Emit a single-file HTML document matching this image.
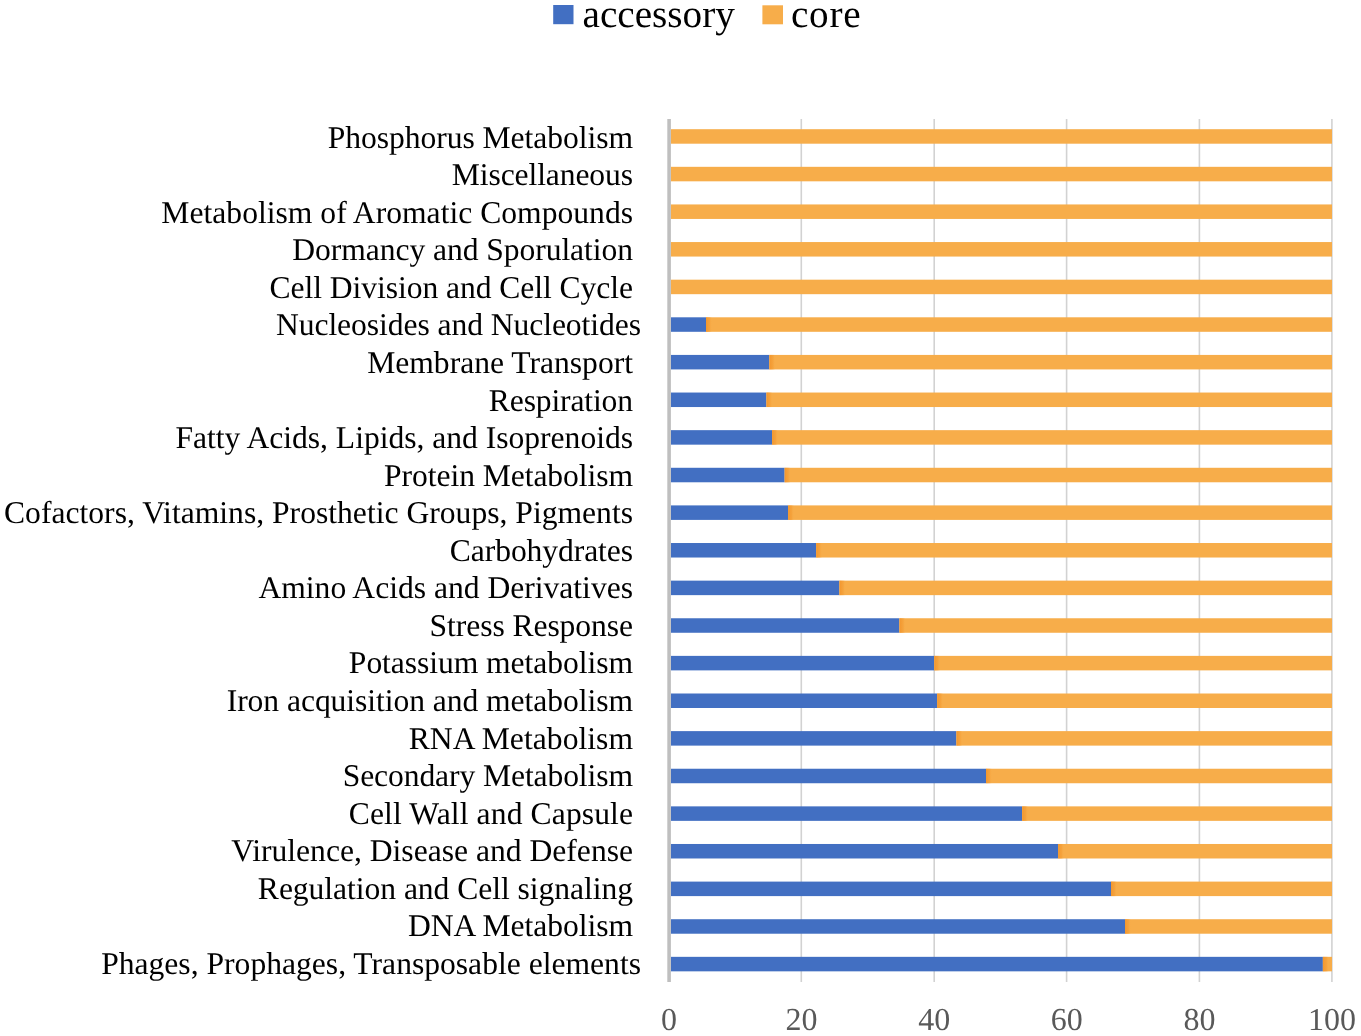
<!DOCTYPE html>
<html><head><meta charset="utf-8"><style>
html,body{margin:0;padding:0;background:#fff;width:1361px;height:1036px;overflow:hidden;font-family:"Liberation Serif",serif;}
svg{display:block;filter:blur(0.35px)} text{text-rendering:geometricPrecision}
</style></head><body>
<svg width="1361" height="1036" viewBox="0 0 1361 1036">
<defs><linearGradient id="jn" x1="0" x2="1" y1="0" y2="0"><stop offset="0" stop-color="#F2962E"/><stop offset="0.6" stop-color="#F39C34" stop-opacity="0.6"/><stop offset="1" stop-color="#F7AD4A" stop-opacity="0"/></linearGradient></defs>
<rect width="1361" height="1036" fill="#fff"/>
<rect x="800.5" y="119" width="1.6" height="863" fill="#D2D2D2"/>
<rect x="933.4" y="119" width="1.6" height="863" fill="#D2D2D2"/>
<rect x="1065.8" y="119" width="1.6" height="863" fill="#D2D2D2"/>
<rect x="1198.6" y="119" width="1.6" height="863" fill="#D2D2D2"/>
<rect x="1331.1" y="119" width="1.6" height="863" fill="#D2D2D2"/>
<rect x="667.3" y="119" width="3.6" height="863" fill="#BFBFBF"/>
<rect x="671.0" y="129.20" width="661.00" height="14.5" fill="#F7AD4A"/>
<text x="633" y="147.60" text-anchor="end" textLength="305.20" lengthAdjust="spacing" font-family="Liberation Serif" font-size="31.6" fill="#000">Phosphorus Metabolism</text>
<rect x="671.0" y="166.82" width="661.00" height="14.5" fill="#F7AD4A"/>
<text x="633" y="185.16" text-anchor="end" textLength="181.20" lengthAdjust="spacing" font-family="Liberation Serif" font-size="31.6" fill="#000">Miscellaneous</text>
<rect x="671.0" y="204.44" width="661.00" height="14.5" fill="#F7AD4A"/>
<text x="633" y="222.72" text-anchor="end" textLength="471.65" lengthAdjust="spacing" font-family="Liberation Serif" font-size="31.6" fill="#000">Metabolism of Aromatic Compounds</text>
<rect x="671.0" y="242.06" width="661.00" height="14.5" fill="#F7AD4A"/>
<text x="633" y="260.28" text-anchor="end" textLength="340.70" lengthAdjust="spacing" font-family="Liberation Serif" font-size="31.6" fill="#000">Dormancy and Sporulation</text>
<rect x="671.0" y="279.68" width="661.00" height="14.5" fill="#F7AD4A"/>
<text x="633" y="297.84" text-anchor="end" textLength="363.45" lengthAdjust="spacing" font-family="Liberation Serif" font-size="31.6" fill="#000">Cell Division and Cell Cycle</text>
<rect x="671.0" y="317.30" width="35.00" height="14.5" fill="#426FC2"/>
<rect x="706.00" y="317.30" width="626.00" height="14.5" fill="#F7AD4A"/>
<rect x="706.00" y="317.30" width="6.00" height="14.5" fill="url(#jn)"/>
<text x="641" y="335.40" text-anchor="end" textLength="365.05" lengthAdjust="spacing" font-family="Liberation Serif" font-size="31.6" fill="#000">Nucleosides and Nucleotides</text>
<rect x="671.0" y="354.92" width="98.40" height="14.5" fill="#426FC2"/>
<rect x="769.40" y="354.92" width="562.60" height="14.5" fill="#F7AD4A"/>
<rect x="769.40" y="354.92" width="6.00" height="14.5" fill="url(#jn)"/>
<text x="633" y="372.96" text-anchor="end" textLength="265.81" lengthAdjust="spacing" font-family="Liberation Serif" font-size="31.6" fill="#000">Membrane Transport</text>
<rect x="671.0" y="392.54" width="95.50" height="14.5" fill="#426FC2"/>
<rect x="766.50" y="392.54" width="565.50" height="14.5" fill="#F7AD4A"/>
<rect x="766.50" y="392.54" width="6.00" height="14.5" fill="url(#jn)"/>
<text x="633" y="410.52" text-anchor="end" textLength="144.17" lengthAdjust="spacing" font-family="Liberation Serif" font-size="31.6" fill="#000">Respiration</text>
<rect x="671.0" y="430.16" width="101.10" height="14.5" fill="#426FC2"/>
<rect x="772.10" y="430.16" width="559.90" height="14.5" fill="#F7AD4A"/>
<rect x="772.10" y="430.16" width="6.00" height="14.5" fill="url(#jn)"/>
<text x="633" y="448.08" text-anchor="end" textLength="457.59" lengthAdjust="spacing" font-family="Liberation Serif" font-size="31.6" fill="#000">Fatty Acids, Lipids, and Isoprenoids</text>
<rect x="671.0" y="467.78" width="113.70" height="14.5" fill="#426FC2"/>
<rect x="784.70" y="467.78" width="547.30" height="14.5" fill="#F7AD4A"/>
<rect x="784.70" y="467.78" width="6.00" height="14.5" fill="url(#jn)"/>
<text x="633" y="485.64" text-anchor="end" textLength="248.91" lengthAdjust="spacing" font-family="Liberation Serif" font-size="31.6" fill="#000">Protein Metabolism</text>
<rect x="671.0" y="505.40" width="117.10" height="14.5" fill="#426FC2"/>
<rect x="788.10" y="505.40" width="543.90" height="14.5" fill="#F7AD4A"/>
<rect x="788.10" y="505.40" width="6.00" height="14.5" fill="url(#jn)"/>
<text x="633" y="523.20" text-anchor="end" textLength="628.98" lengthAdjust="spacing" font-family="Liberation Serif" font-size="31.6" fill="#000">Cofactors, Vitamins, Prosthetic Groups, Pigments</text>
<rect x="671.0" y="543.02" width="145.20" height="14.5" fill="#426FC2"/>
<rect x="816.20" y="543.02" width="515.80" height="14.5" fill="#F7AD4A"/>
<rect x="816.20" y="543.02" width="6.00" height="14.5" fill="url(#jn)"/>
<text x="633" y="560.76" text-anchor="end" textLength="183.15" lengthAdjust="spacing" font-family="Liberation Serif" font-size="31.6" fill="#000">Carbohydrates</text>
<rect x="671.0" y="580.64" width="168.50" height="14.5" fill="#426FC2"/>
<rect x="839.50" y="580.64" width="492.50" height="14.5" fill="#F7AD4A"/>
<rect x="839.50" y="580.64" width="6.00" height="14.5" fill="url(#jn)"/>
<text x="633" y="598.32" text-anchor="end" textLength="374.57" lengthAdjust="spacing" font-family="Liberation Serif" font-size="31.6" fill="#000">Amino Acids and Derivatives</text>
<rect x="671.0" y="618.26" width="228.50" height="14.5" fill="#426FC2"/>
<rect x="899.50" y="618.26" width="432.50" height="14.5" fill="#F7AD4A"/>
<rect x="899.50" y="618.26" width="6.00" height="14.5" fill="url(#jn)"/>
<text x="633" y="635.88" text-anchor="end" textLength="203.38" lengthAdjust="spacing" font-family="Liberation Serif" font-size="31.6" fill="#000">Stress Response</text>
<rect x="671.0" y="655.88" width="263.30" height="14.5" fill="#426FC2"/>
<rect x="934.30" y="655.88" width="397.70" height="14.5" fill="#F7AD4A"/>
<rect x="934.30" y="655.88" width="6.00" height="14.5" fill="url(#jn)"/>
<text x="633" y="673.44" text-anchor="end" textLength="284.13" lengthAdjust="spacing" font-family="Liberation Serif" font-size="31.6" fill="#000">Potassium metabolism</text>
<rect x="671.0" y="693.50" width="266.20" height="14.5" fill="#426FC2"/>
<rect x="937.20" y="693.50" width="394.80" height="14.5" fill="#F7AD4A"/>
<rect x="937.20" y="693.50" width="6.00" height="14.5" fill="url(#jn)"/>
<text x="633" y="711.00" text-anchor="end" textLength="406.32" lengthAdjust="spacing" font-family="Liberation Serif" font-size="31.6" fill="#000">Iron acquisition and metabolism</text>
<rect x="671.0" y="731.12" width="285.50" height="14.5" fill="#426FC2"/>
<rect x="956.50" y="731.12" width="375.50" height="14.5" fill="#F7AD4A"/>
<rect x="956.50" y="731.12" width="6.00" height="14.5" fill="url(#jn)"/>
<text x="633" y="748.56" text-anchor="end" textLength="224.30" lengthAdjust="spacing" font-family="Liberation Serif" font-size="31.6" fill="#000">RNA Metabolism</text>
<rect x="671.0" y="768.74" width="315.00" height="14.5" fill="#426FC2"/>
<rect x="986.00" y="768.74" width="346.00" height="14.5" fill="#F7AD4A"/>
<rect x="986.00" y="768.74" width="6.00" height="14.5" fill="url(#jn)"/>
<text x="633" y="786.12" text-anchor="end" textLength="290.29" lengthAdjust="spacing" font-family="Liberation Serif" font-size="31.6" fill="#000">Secondary Metabolism</text>
<rect x="671.0" y="806.36" width="351.20" height="14.5" fill="#426FC2"/>
<rect x="1022.20" y="806.36" width="309.80" height="14.5" fill="#F7AD4A"/>
<rect x="1022.20" y="806.36" width="6.00" height="14.5" fill="url(#jn)"/>
<text x="633" y="823.68" text-anchor="end" textLength="284.25" lengthAdjust="spacing" font-family="Liberation Serif" font-size="31.6" fill="#000">Cell Wall and Capsule</text>
<rect x="671.0" y="843.98" width="387.10" height="14.5" fill="#426FC2"/>
<rect x="1058.10" y="843.98" width="273.90" height="14.5" fill="#F7AD4A"/>
<rect x="1058.10" y="843.98" width="6.00" height="14.5" fill="url(#jn)"/>
<text x="633" y="861.24" text-anchor="end" textLength="401.73" lengthAdjust="spacing" font-family="Liberation Serif" font-size="31.6" fill="#000">Virulence, Disease and Defense</text>
<rect x="671.0" y="881.60" width="440.00" height="14.5" fill="#426FC2"/>
<rect x="1111.00" y="881.60" width="221.00" height="14.5" fill="#F7AD4A"/>
<rect x="1111.00" y="881.60" width="6.00" height="14.5" fill="url(#jn)"/>
<text x="633" y="898.80" text-anchor="end" textLength="375.15" lengthAdjust="spacing" font-family="Liberation Serif" font-size="31.6" fill="#000">Regulation and Cell signaling</text>
<rect x="671.0" y="919.22" width="454.00" height="14.5" fill="#426FC2"/>
<rect x="1125.00" y="919.22" width="207.00" height="14.5" fill="#F7AD4A"/>
<rect x="1125.00" y="919.22" width="6.00" height="14.5" fill="url(#jn)"/>
<text x="633" y="936.36" text-anchor="end" textLength="225.05" lengthAdjust="spacing" font-family="Liberation Serif" font-size="31.6" fill="#000">DNA Metabolism</text>
<rect x="671.0" y="956.84" width="651.90" height="14.5" fill="#426FC2"/>
<rect x="1322.90" y="956.84" width="9.10" height="14.5" fill="#F7AD4A"/>
<rect x="1322.90" y="956.84" width="6.00" height="14.5" fill="url(#jn)"/>
<text x="641" y="973.92" text-anchor="end" textLength="539.87" lengthAdjust="spacing" font-family="Liberation Serif" font-size="31.6" fill="#000">Phages, Prophages, Transposable elements</text>
<text x="669.0" y="1029.9" text-anchor="middle" font-family="Liberation Serif" font-size="32" fill="#595959">0</text>
<text x="801.6" y="1029.9" text-anchor="middle" font-family="Liberation Serif" font-size="32" fill="#595959">20</text>
<text x="934.2" y="1029.9" text-anchor="middle" font-family="Liberation Serif" font-size="32" fill="#595959">40</text>
<text x="1066.8" y="1029.9" text-anchor="middle" font-family="Liberation Serif" font-size="32" fill="#595959">60</text>
<text x="1199.4" y="1029.9" text-anchor="middle" font-family="Liberation Serif" font-size="32" fill="#595959">80</text>
<text x="1332.0" y="1029.9" text-anchor="middle" font-family="Liberation Serif" font-size="32" fill="#595959">100</text>
<rect x="553.2" y="5" width="20.3" height="19.2" fill="#426FC2"/>
<text x="582.5" y="27" font-family="Liberation Serif" font-size="39.2" fill="#000">accessory</text>
<rect x="762.4" y="5.3" width="20.6" height="19" fill="#F7AD4A"/>
<text x="791" y="27" font-family="Liberation Serif" font-size="39.2" letter-spacing="0.7" fill="#000">core</text>
</svg>
</body></html>
